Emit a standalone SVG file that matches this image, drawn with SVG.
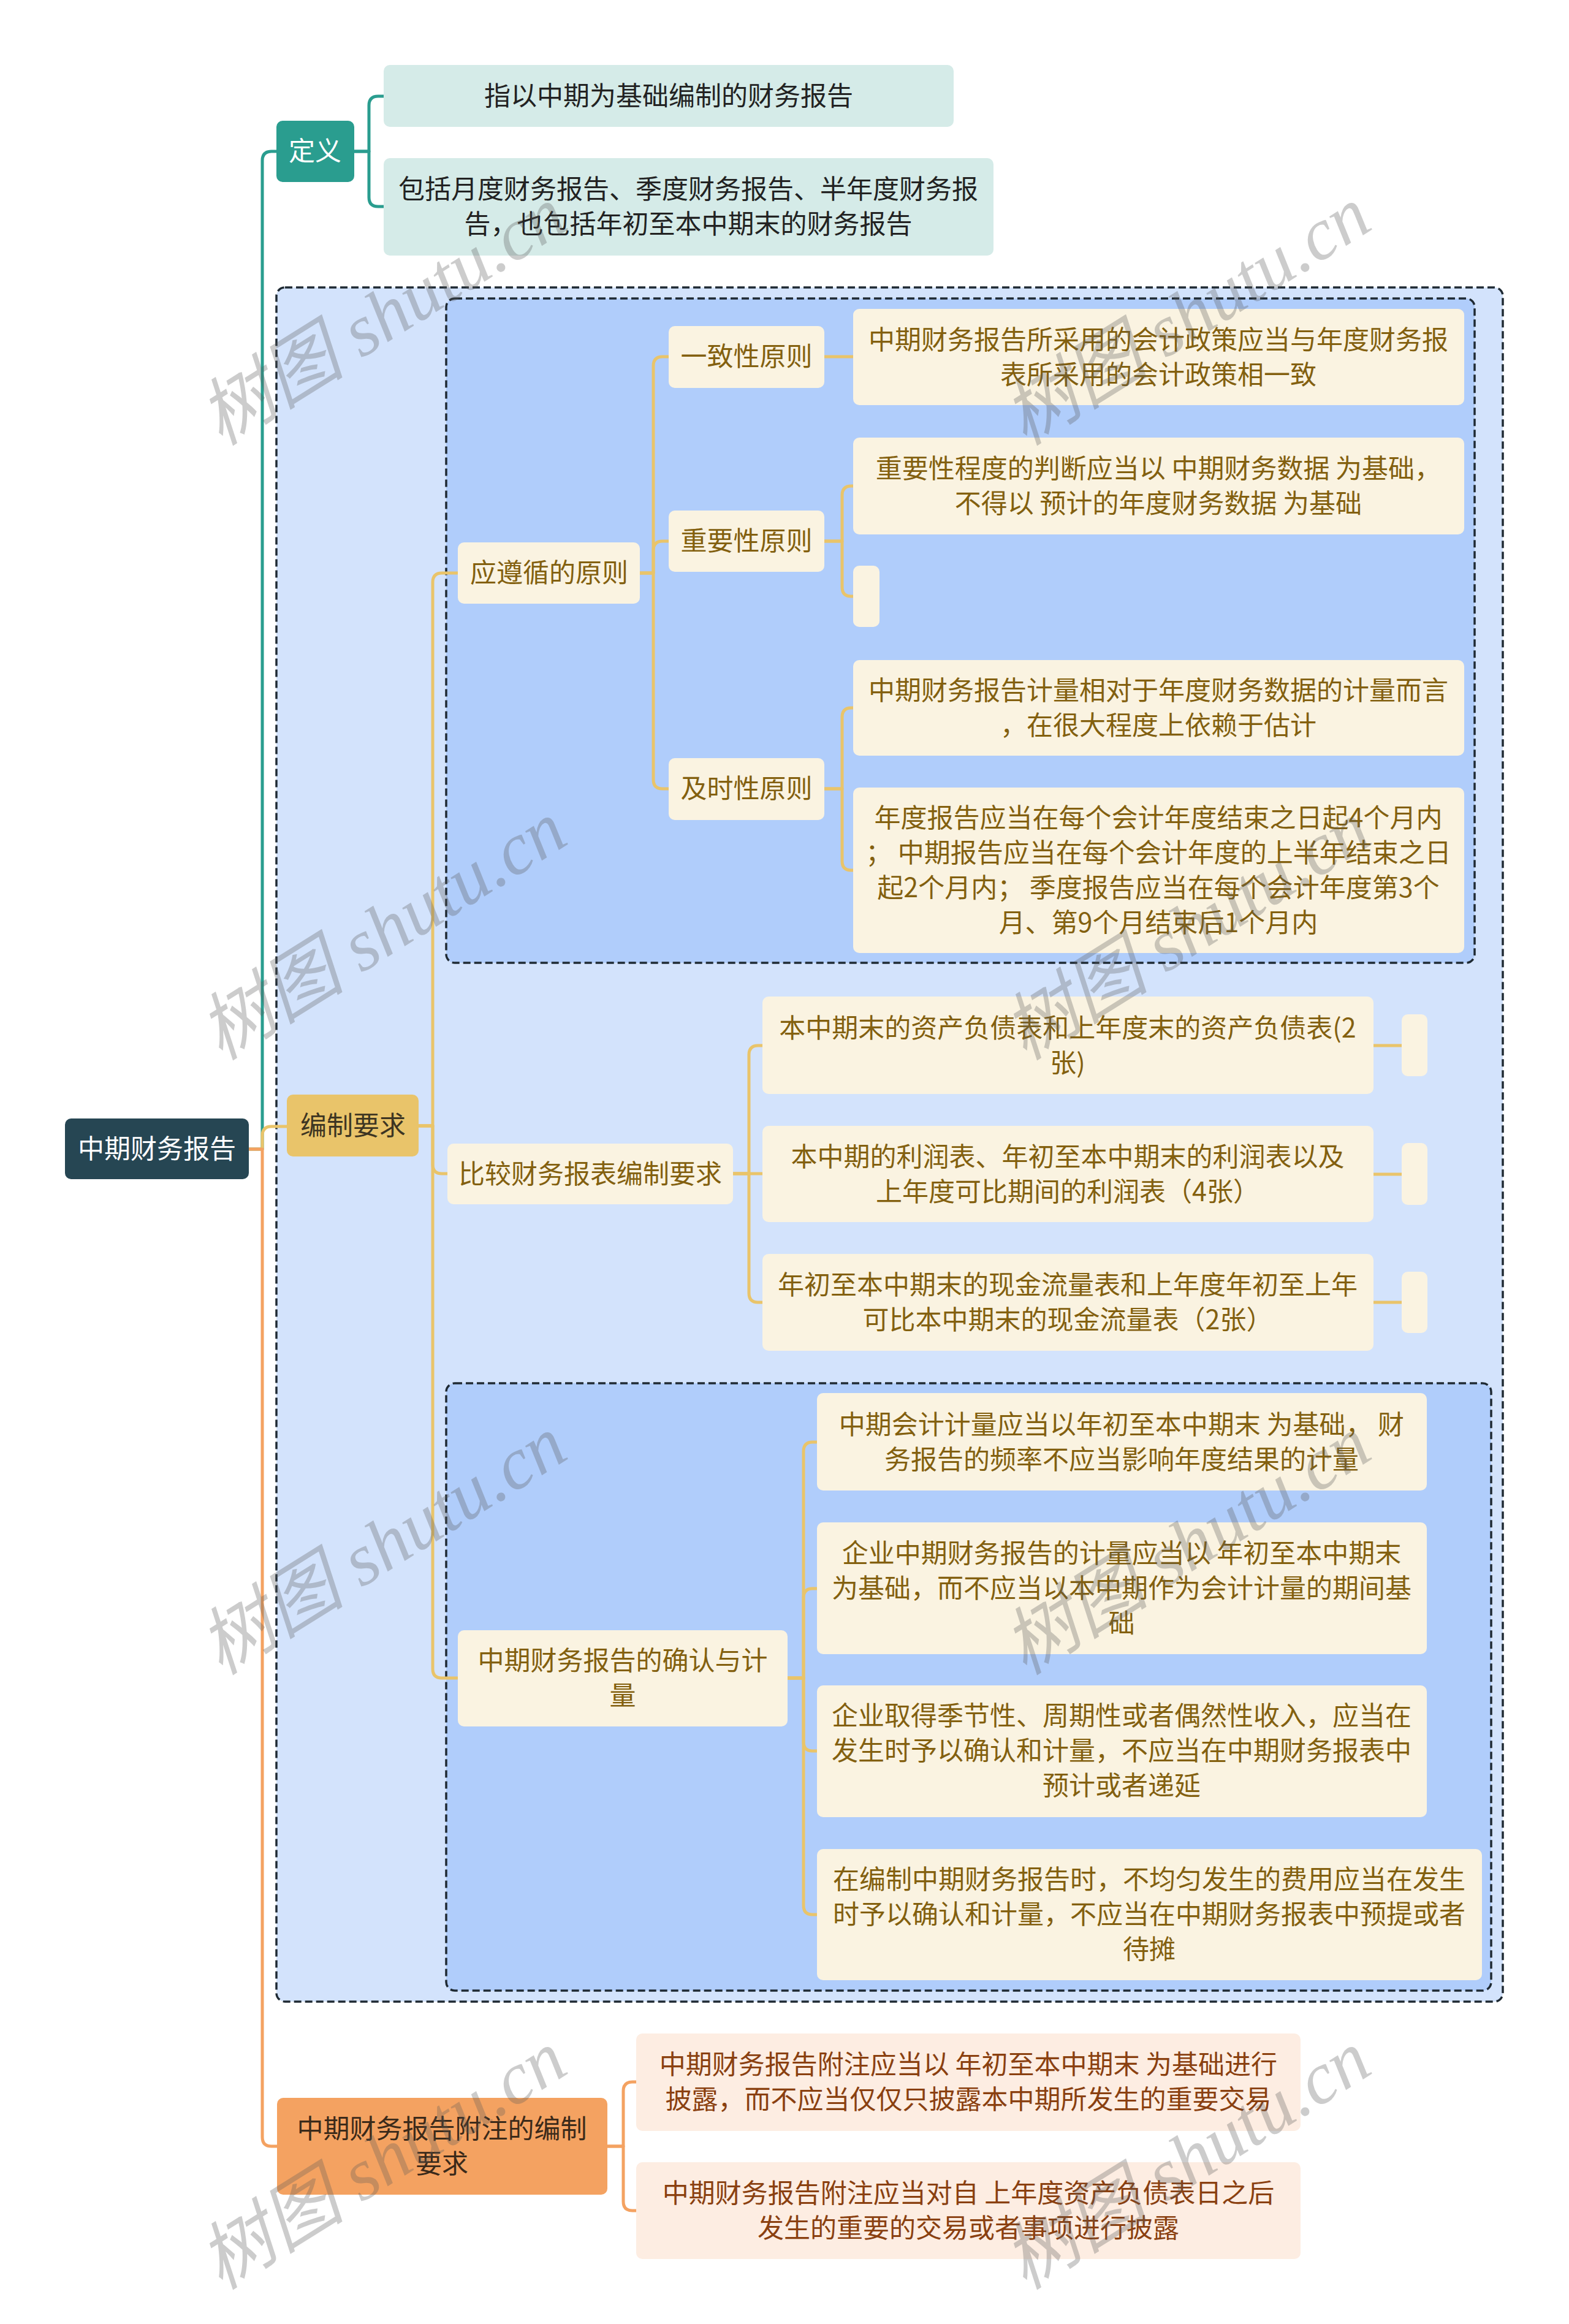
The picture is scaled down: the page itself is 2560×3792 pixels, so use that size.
<svg xmlns="http://www.w3.org/2000/svg" width="2560" height="3792" viewBox="0 0 2560 3792">
<style>
text{font-family:"Noto Sans CJK SC","Noto Sans",sans-serif;font-size:43px;text-anchor:middle}
.c{fill:none;stroke-width:5;stroke-linejoin:round}
.teal{stroke:#2a9d8f}.yel{stroke:#e9c46a}.org{stroke:#f4a261}
.root{fill:#264653}.def{fill:#2a9d8f}.defl{fill:#d5ebe8}
.bz{fill:#e9c46a}.cream{fill:#faf3e1}.fz{fill:#f4a261}.peach{fill:#fdede2}
.t-w{fill:#ffffff}.t-d{fill:#222222}.t-y{fill:#83600f}.t-b{fill:#3d3522}.t-f{fill:#3b2a1a}.t-p{fill:#8a4010}
.box1{fill:#d3e3fc;stroke:#1f2a33;stroke-width:3.5;stroke-dasharray:12 6}
.box2{fill:#b0cdfb;stroke:#1f2a33;stroke-width:3.5;stroke-dasharray:12 6}
.wm{font-family:"Liberation Serif","Noto Sans CJK SC",serif;font-style:italic;font-size:120px;fill:#5a5a5a;opacity:0.3}
</style>
<rect width="2560" height="3792" fill="#ffffff"/>
<g id="containers">
<rect class="box1" x="451" y="469" width="2001" height="2797" rx="14"/>
<rect class="box2" x="728" y="487" width="1678" height="1084" rx="14"/>
<rect class="box2" x="728" y="2257" width="1705" height="991" rx="14"/>
</g>
<g id="connectors">
<path class="c teal" d="M406,1875 H428 V262 Q428,247 443,247 H451"/>
<path class="c yel" d="M406,1875 H428 V1853 Q428,1838 443,1838 H468"/>
<path class="c org" d="M406,1875 H428 V3487 Q428,3502 443,3502 H452"/>
<path class="c teal" d="M578,247 H602 V172 Q602,157 617,157 H626"/>
<path class="c teal" d="M578,247 H602 V322 Q602,337 617,337 H626"/>
<path class="c yel" d="M683,1837 H706 V950 Q706,935 721,935 H747"/>
<path class="c yel" d="M683,1837 H706 V1900 Q706,1915 721,1915 H730"/>
<path class="c yel" d="M683,1837 H706 V2723 Q706,2738 721,2738 H747"/>
<path class="c yel" d="M1044,935 H1066 V597 Q1066,582 1081,582 H1091"/>
<path class="c yel" d="M1044,935 H1066 V898 Q1066,883 1081,883 H1091"/>
<path class="c yel" d="M1044,935 H1066 V1272 Q1066,1287 1081,1287 H1091"/>
<path class="c yel" d="M1345,582 H1392"/>
<path class="c yel" d="M1345,883 H1374 V808 Q1374,793 1389,793 H1392"/>
<path class="c yel" d="M1345,883 H1374 V958 Q1374,973 1389,973 H1392"/>
<path class="c yel" d="M1345,1287 H1374 V1170 Q1374,1155 1389,1155 H1392"/>
<path class="c yel" d="M1345,1287 H1374 V1405 Q1374,1420 1389,1420 H1392"/>
<path class="c yel" d="M1196,1915 H1222 V1721 Q1222,1706 1237,1706 H1244"/>
<path class="c yel" d="M1196,1915 H1244"/>
<path class="c yel" d="M1196,1915 H1222 V2110 Q1222,2125 1237,2125 H1244"/>
<path class="c yel" d="M2241,1706 H2287"/>
<path class="c yel" d="M2241,1916 H2287"/>
<path class="c yel" d="M2241,2125 H2287"/>
<path class="c yel" d="M1285,2738 H1311 V2368 Q1311,2353 1326,2353 H1333"/>
<path class="c yel" d="M1285,2738 H1311 V2607 Q1311,2592 1326,2592 H1333"/>
<path class="c yel" d="M1285,2738 H1311 V2842 Q1311,2857 1326,2857 H1333"/>
<path class="c yel" d="M1285,2738 H1311 V3109 Q1311,3124 1326,3124 H1333"/>
<path class="c org" d="M991,3502 H1017 V3412 Q1017,3397 1032,3397 H1038"/>
<path class="c org" d="M991,3502 H1017 V3592 Q1017,3607 1032,3607 H1038"/>
</g>
<g id="root"><rect class="root" x="106" y="1825" width="300" height="99" rx="10"/><text class="t-w" x="256" y="1890">中期财务报告</text></g>
<g id="n-def"><rect class="def" x="451" y="197" width="127" height="100" rx="10"/><text class="t-w" x="514" y="262">定义</text></g>
<g id="n-def1"><rect class="defl" x="626" y="106" width="930" height="101" rx="10"/><text class="t-d" x="1091" y="172">指以中期为基础编制的财务报告</text></g>
<g id="n-def2"><rect class="defl" x="626" y="258" width="995" height="159" rx="10"/><text class="t-d" x="1123" y="324">包括月度财务报告、季度财务报告、半年度财务报</text><text class="t-d" x="1123" y="381">告，也包括年初至本中期末的财务报告</text></g>
<g id="n-bz"><rect class="bz" x="468" y="1786" width="215" height="101" rx="10"/><text class="t-b" x="576" y="1852">编制要求</text></g>
<g id="n-yzx"><rect class="cream" x="747" y="885" width="297" height="100" rx="10"/><text class="t-y" x="896" y="950">应遵循的原则</text></g>
<g id="n-yz"><rect class="cream" x="1091" y="532" width="254" height="101" rx="10"/><text class="t-y" x="1218" y="597">一致性原则</text></g>
<g id="n-yz1"><rect class="cream" x="1392" y="504" width="997" height="157" rx="10"/><text class="t-y" x="1890" y="570">中期财务报告所采用的会计政策应当与年度财务报</text><text class="t-y" x="1890" y="627">表所采用的会计政策相一致</text></g>
<g id="n-zy"><rect class="cream" x="1091" y="833" width="254" height="100" rx="10"/><text class="t-y" x="1218" y="898">重要性原则</text></g>
<g id="n-zy1"><rect class="cream" x="1392" y="714" width="997" height="158" rx="10"/><text class="t-y" x="1890" y="780">重要性程度的判断应当以 中期财务数据 为基础，</text><text class="t-y" x="1890" y="837">不得以 预计的年度财务数据 为基础</text></g>
<g id="n-zy2"><rect class="cream" x="1392" y="923" width="43" height="100" rx="10"/></g>
<g id="n-js"><rect class="cream" x="1091" y="1237" width="254" height="101" rx="10"/><text class="t-y" x="1218" y="1302">及时性原则</text></g>
<g id="n-js1"><rect class="cream" x="1392" y="1077" width="997" height="156" rx="10"/><text class="t-y" x="1890" y="1142">中期财务报告计量相对于年度财务数据的计量而言</text><text class="t-y" x="1890" y="1199">，在很大程度上依赖于估计</text></g>
<g id="n-js2"><rect class="cream" x="1392" y="1285" width="997" height="270" rx="10"/><text class="t-y" x="1890" y="1350">年度报告应当在每个会计年度结束之日起4个月内</text><text class="t-y" x="1890" y="1407">；  中期报告应当在每个会计年度的上半年结束之日</text><text class="t-y" x="1890" y="1464">起2个月内；  季度报告应当在每个会计年度第3个</text><text class="t-y" x="1890" y="1521">月、第9个月结束后1个月内</text></g>
<g id="n-bj"><rect class="cream" x="730" y="1866" width="466" height="99" rx="10"/><text class="t-y" x="963" y="1931">比较财务报表编制要求</text></g>
<g id="n-bj1"><rect class="cream" x="1244" y="1626" width="997" height="159" rx="10"/><text class="t-y" x="1742" y="1693">本中期末的资产负债表和上年度末的资产负债表(2</text><text class="t-y" x="1742" y="1750">张)</text></g>
<g id="n-bj1e"><rect class="cream" x="2287" y="1655" width="42" height="101" rx="10"/></g>
<g id="n-bj2"><rect class="cream" x="1244" y="1837" width="997" height="157" rx="10"/><text class="t-y" x="1742" y="1903">本中期的利润表、年初至本中期末的利润表以及</text><text class="t-y" x="1742" y="1960">上年度可比期间的利润表（4张）</text></g>
<g id="n-bj2e"><rect class="cream" x="2287" y="1865" width="42" height="101" rx="10"/></g>
<g id="n-bj3"><rect class="cream" x="1244" y="2046" width="997" height="158" rx="10"/><text class="t-y" x="1742" y="2112">年初至本中期末的现金流量表和上年度年初至上年</text><text class="t-y" x="1742" y="2169">可比本中期末的现金流量表（2张）</text></g>
<g id="n-bj3e"><rect class="cream" x="2287" y="2075" width="42" height="100" rx="10"/></g>
<g id="n-qr"><rect class="cream" x="747" y="2660" width="538" height="157" rx="10"/><text class="t-y" x="1016" y="2725">中期财务报告的确认与计</text><text class="t-y" x="1016" y="2782">量</text></g>
<g id="n-qr1"><rect class="cream" x="1333" y="2273" width="995" height="159" rx="10"/><text class="t-y" x="1830" y="2340">中期会计计量应当以年初至本中期末 为基础， 财</text><text class="t-y" x="1830" y="2397">务报告的频率不应当影响年度结果的计量</text></g>
<g id="n-qr2"><rect class="cream" x="1333" y="2484" width="995" height="215" rx="10"/><text class="t-y" x="1830" y="2550">企业中期财务报告的计量应当以 年初至本中期末</text><text class="t-y" x="1830" y="2607">为基础，而不应当以本中期作为会计计量的期间基</text><text class="t-y" x="1830" y="2664">础</text></g>
<g id="n-qr3"><rect class="cream" x="1333" y="2750" width="995" height="215" rx="10"/><text class="t-y" x="1830" y="2815">企业取得季节性、周期性或者偶然性收入，应当在</text><text class="t-y" x="1830" y="2872">发生时予以确认和计量，不应当在中期财务报表中</text><text class="t-y" x="1830" y="2929">预计或者递延</text></g>
<g id="n-qr4"><rect class="cream" x="1333" y="3017" width="1085" height="214" rx="10"/><text class="t-y" x="1875" y="3082">在编制中期财务报告时，不均匀发生的费用应当在发生</text><text class="t-y" x="1875" y="3139">时予以确认和计量，不应当在中期财务报表中预提或者</text><text class="t-y" x="1875" y="3196">待摊</text></g>
<g id="n-fz"><rect class="fz" x="452" y="3423" width="539" height="158" rx="10"/><text class="t-f" x="721" y="3489">中期财务报告附注的编制</text><text class="t-f" x="721" y="3546">要求</text></g>
<g id="n-fz1"><rect class="peach" x="1038" y="3318" width="1084" height="159" rx="10"/><text class="t-p" x="1580" y="3384">中期财务报告附注应当以 年初至本中期末 为基础进行</text><text class="t-p" x="1580" y="3441">披露，而不应当仅仅只披露本中期所发生的重要交易</text></g>
<g id="n-fz2"><rect class="peach" x="1038" y="3528" width="1084" height="158" rx="10"/><text class="t-p" x="1580" y="3594">中期财务报告附注应当对自 上年度资产负债表日之后</text><text class="t-p" x="1580" y="3651">发生的重要的交易或者事项进行披露</text></g>
<g id="watermarks">
<text class="wm" transform="translate(646,550) rotate(-32)">树图 shutu.cn</text>
<text class="wm" transform="translate(1958,550) rotate(-32)">树图 shutu.cn</text>
<text class="wm" transform="translate(646,1553) rotate(-32)">树图 shutu.cn</text>
<text class="wm" transform="translate(1958,1553) rotate(-32)">树图 shutu.cn</text>
<text class="wm" transform="translate(646,2556) rotate(-32)">树图 shutu.cn</text>
<text class="wm" transform="translate(1958,2556) rotate(-32)">树图 shutu.cn</text>
<text class="wm" transform="translate(646,3559) rotate(-32)">树图 shutu.cn</text>
<text class="wm" transform="translate(1958,3559) rotate(-32)">树图 shutu.cn</text>
</g>
</svg>
